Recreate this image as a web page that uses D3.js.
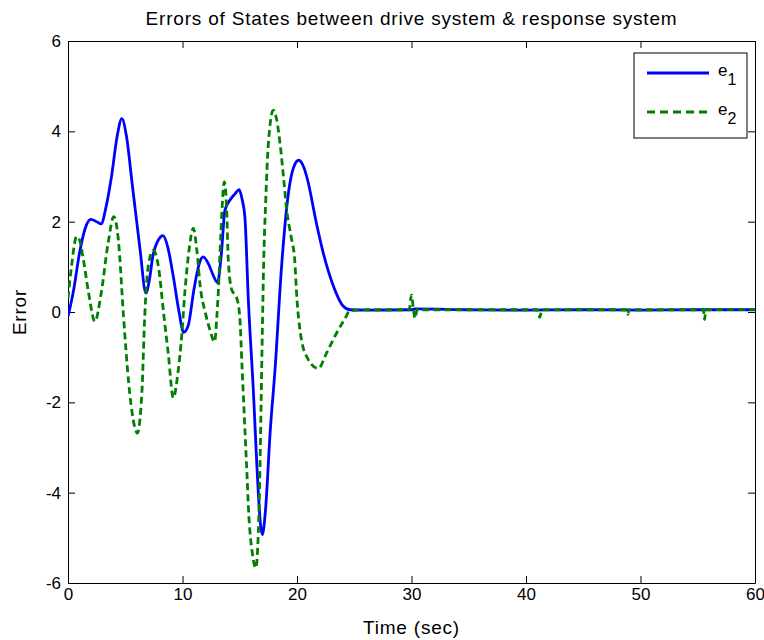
<!DOCTYPE html>
<html>
<head>
<meta charset="utf-8">
<script src="https://cdn.jsdelivr.net/npm/d3@7"></script>
<style>
    body { margin: 0; background: #fff; }
    text { font-family: "Liberation Sans", Arial, sans-serif; fill: #000; }
</style>
</head>
<body>
<svg id="chart" width="764" height="640"></svg>
<script>
// values (time in sec, error)
let t1 = [0, 0.5, 1.0, 1.5, 2.0, 2.5, 2.9, 3.3, 3.8, 4.3, 4.7, 5.1, 5.6, 6.0, 6.3, 6.8, 7.1, 7.4, 7.9, 8.3,
          8.7, 9.2, 9.7, 10.1, 10.5, 11.0, 11.5, 11.8, 12.3, 12.7, 13.05, 13.4, 13.7, 14.15, 14.6, 14.95, 15.2, 15.45, 15.75, 16.2,
          16.5, 16.8, 16.97, 17.25, 17.65, 18.1, 18.65, 19.25, 19.7, 20.15, 20.6, 20.9, 21.7, 22.3, 23.2, 24.0, 24.6, 26, 30, 30.3,
          35, 40, 45, 50, 55, 60];
let e1 = [-0.1, 0.5, 1.3, 1.85, 2.05, 2.0, 1.95, 2.3, 3.0, 3.9, 4.28, 3.9, 2.85, 2.0, 1.37, 0.42, 0.7, 1.22, 1.6, 1.69,
          1.45, 0.78, 0.0, -0.45, -0.3, 0.5, 1.1, 1.22, 1.05, 0.8, 0.65, 1.3, 2.25, 2.48, 2.62, 2.71, 2.5, 2.1, 0.27, -1.8,
          -3.42, -4.67, -4.93, -4.38, -2.68, -1.21, 1.0, 2.63, 3.2, 3.36, 3.2, 2.95, 1.96, 1.3, 0.56, 0.14, 0.05, 0.04, 0.05, 0.07,
          0.05, 0.04, 0.05, 0.04, 0.05, 0.05];

let t2 = [0, 0.3, 0.75, 1.0, 1.35, 1.8, 2.35, 2.9, 3.5, 4.0, 4.4, 4.85, 5.3, 5.7, 6.05, 6.45, 6.7, 7.0, 7.45, 7.9,
          8.35, 8.75, 9.2, 9.6, 9.95, 10.2, 10.5, 10.95, 11.25, 11.55, 12.0, 12.4, 12.8, 13.0, 13.15, 13.35, 13.65, 13.85, 14.0, 14.3,
          14.7, 15.0, 15.2, 15.4, 15.6, 15.8, 16.1, 16.4, 16.62, 16.77, 16.87, 16.98, 17.08, 17.27, 17.5, 17.93, 18.23, 18.52, 18.82, 19.1,
          19.5, 19.8, 20.0, 20.3, 20.85, 21.85, 22.6, 23.45, 24.2, 24.6, 26, 29.8, 30.0, 30.15, 30.3, 30.5, 41.0, 41.2, 41.4, 48.8,
          48.9, 49.0, 55.5, 55.6, 55.7, 60];
let e2 = [0.3, 1.0, 1.67, 1.6, 1.15, 0.42, -0.21, 0.42, 1.52, 2.11, 1.59, -0.1, -1.57, -2.39, -2.68, -1.8, -0.1, 1.0, 1.37, 1.0,
          -0.02, -0.91, -1.9, -1.35, -0.47, 0.42, 1.22, 1.85, 1.37, 0.56, -0.02, -0.4, -0.66, -0.1, 0.56, 1.74, 2.88, 2.33, 1.15, 0.49,
          0.34, -0.1, -1.21, -2.32, -3.42, -4.53, -5.34, -5.67, -4.9, -3.42, -1.95, -0.33, 1.0, 2.48, 3.73, 4.47, 4.25, 3.73, 2.99, 2.26,
          1.65, 1.15, 0.27, -0.47, -0.99, -1.25, -0.9, -0.47, -0.14, 0.02, 0.05, 0.05, 0.38, 0.1, -0.14, 0.05, 0.05, -0.12, 0.05, 0.05,
          -0.05, 0.05, 0.05, -0.17, 0.05, 0.06];

let xTicks = [0, 10, 20, 30, 40, 50, 60];
let yTicks = [-6, -4, -2, 0, 2, 4, 6];
let seriesNames = ["e1", "e2"];

const W = 764, H = 640;
const margin = {top: 41, right: 9, bottom: 57, left: 68};
const pw = W - margin.left - margin.right;
const ph = H - margin.top - margin.bottom;

let svg = d3.select("#chart");
let g = svg.append("g").attr("transform", `translate(${margin.left},${margin.top})`);

let x = d3.scaleLinear().domain([0, 60]).range([0, pw]);
let y = d3.scaleLinear().domain([-6, 6]).range([ph, 0]);

// MATLAB writes "-6" with a plain hyphen
let plain = d => String(d);

// axes, ticks inward on all four sides
g.append("g").attr("class", "axis").attr("transform", `translate(0,${ph})`)
    .call(d3.axisBottom(x).tickValues(xTicks).tickSizeInner(-7).tickSizeOuter(0).tickPadding(5).tickFormat(plain));
g.append("g").attr("class", "axis")
    .call(d3.axisTop(x).tickValues(xTicks).tickSizeInner(-7).tickSizeOuter(0).tickFormat(""));
g.append("g").attr("class", "axis")
    .call(d3.axisLeft(y).tickValues(yTicks).tickSizeInner(-7).tickSizeOuter(0).tickPadding(7).tickFormat(plain));
g.append("g").attr("class", "axis").attr("transform", `translate(${pw},0)`)
    .call(d3.axisRight(y).tickValues(yTicks).tickSizeInner(-7).tickSizeOuter(0).tickFormat(""));

g.selectAll(".axis path").attr("stroke", "#000").attr("stroke-width", 1);
g.selectAll(".axis line").attr("stroke", "#000").attr("stroke-width", 1);
g.selectAll(".axis text").attr("font-size", 17).attr("font-family", null).attr("fill", "#000");

// clip the lines to the box
svg.append("clipPath").attr("id", "clip")
    .append("rect").attr("width", pw).attr("height", ph);

let line = d3.line()
    .x(d => x(d[0]))
    .y(d => y(d[1]))
    .curve(d3.curveMonotoneX);

let pts1 = t1.map((t, i) => [t, e1[i]]);
let pts2 = t2.map((t, i) => [t, e2[i]]);

let plot = g.append("g").attr("clip-path", "url(#clip)");
plot.append("path").datum(pts1)
    .attr("d", line)
    .attr("fill", "none")
    .attr("stroke", "#0000ff")
    .attr("stroke-width", 2.8);
plot.append("path").datum(pts2)
    .attr("d", line)
    .attr("fill", "none")
    .attr("stroke", "#008000")
    .attr("stroke-width", 2.8)
    .attr("stroke-dasharray", "7,4");

// titles
svg.append("text")
    .attr("x", margin.left + pw / 2).attr("y", 25)
    .attr("text-anchor", "middle").attr("font-size", 19).attr("letter-spacing", 0.8)
    .text("Errors of States between drive system & response system");
svg.append("text")
    .attr("x", margin.left + pw / 2).attr("y", 634)
    .attr("text-anchor", "middle").attr("font-size", 19).attr("letter-spacing", 0.8)
    .text("Time (sec)");
svg.append("text")
    .attr("transform", `translate(26,${margin.top + ph / 2}) rotate(-90)`)
    .attr("text-anchor", "middle").attr("font-size", 19).attr("letter-spacing", 0.8)
    .text("Error");

// legend
let lg = svg.append("g").attr("transform", "translate(634,53)");
lg.append("rect").attr("width", 113).attr("height", 85)
    .attr("fill", "#fff").attr("stroke", "#000").attr("stroke-width", 1);
let styles = [{c: "#0000ff", dash: null}, {c: "#008000", dash: "8,5"}];
seriesNames.forEach((name, i) => {
    let yy = 20 + i * 39;
    lg.append("line")
        .attr("x1", 13).attr("x2", 75).attr("y1", yy).attr("y2", yy)
        .attr("stroke", styles[i].c).attr("stroke-width", 2.8)
        .attr("stroke-dasharray", styles[i].dash);
    let tx = lg.append("text").attr("x", 84).attr("y", yy + 3).attr("font-size", 17);
    tx.append("tspan").text(name[0]);
    tx.append("tspan").attr("dy", 9).attr("font-size", 16).text(name.slice(1));
});
</script>
</body>
</html>
